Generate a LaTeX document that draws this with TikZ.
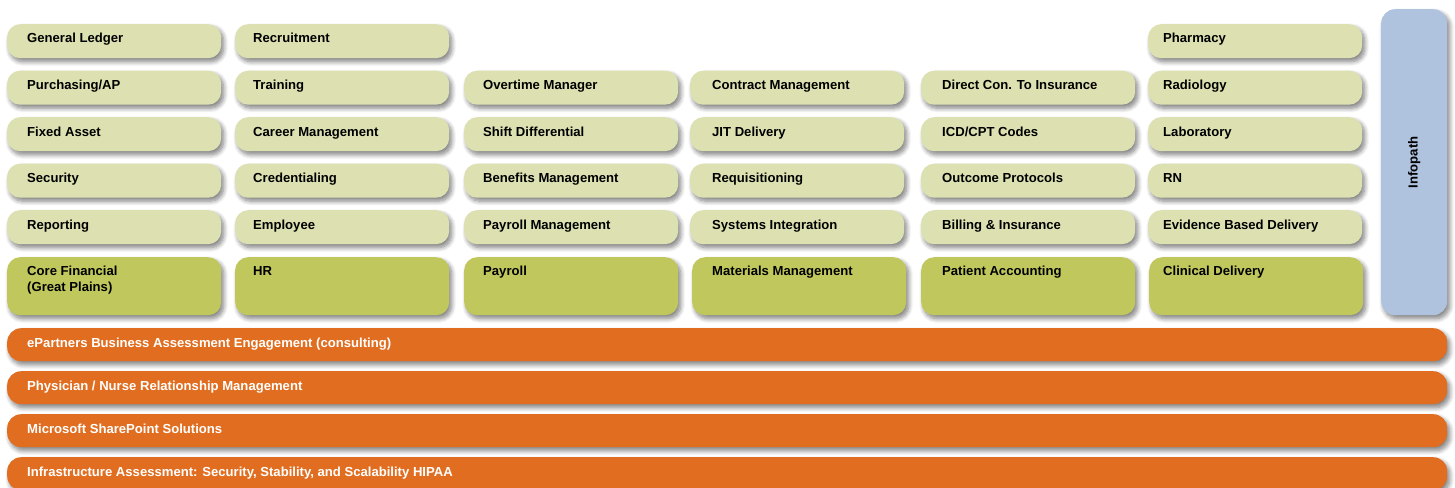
\documentclass[tikz,border=0pt]{standalone}
\usepackage{fontspec}
\setmainfont{Liberation Sans}
\usetikzlibrary{shadows.blur}
\definecolor{liteGreen}{RGB}{221,224,176}
\definecolor{darkGreen}{RGB}{192,200,93}
\definecolor{bandOrange}{RGB}{225,110,32}
\definecolor{infoBlue}{RGB}{175,195,222}
\tikzset{
  soft/.style={blur shadow={shadow xshift=2.5pt, shadow yshift=-3.5pt,
      shadow blur radius=4.5pt, shadow blur steps=8, shadow opacity=50}},
  lite/.style={soft, fill=liteGreen, rounded corners=13pt, draw=none,
      minimum width=214pt, minimum height=34pt, inner sep=0pt, anchor=north west},
  core/.style={soft, fill=darkGreen, rounded corners=13pt, draw=none,
      minimum width=214pt, minimum height=58pt, inner sep=0pt, anchor=north west},
  band/.style={soft, fill=bandOrange, rounded corners=14pt, draw=none,
      minimum width=1440pt, minimum height=33pt, inner sep=0pt, anchor=north west},
  side/.style={soft, fill=infoBlue, rounded corners=14pt, draw=none,
      minimum width=66pt, minimum height=306pt, inner sep=0pt, anchor=north west},
  lbl/.style={font=\fontsize{13.1}{16}\selectfont\bfseries, inner sep=0pt,
      text=black, anchor=base west, align=left},
  wlbl/.style={lbl, text=white},
}
% light module box: name, left, text x, top, label
\newcommand\modbox[5]{%
  \node[lite] (#1) at (#2,#4) {};
  \node[lbl] (#1-t) at (#3,#4+19) {#5};
}
% core product box: name, left, text x, baseline of last line, label
\newcommand\corebox[5]{%
  \node[core] (#1) at (#2,257) {};
  \node[lbl] (#1-t) at (#3,#4) {#5};
}
% service band: name, top, label
\newcommand\servband[3]{%
  \node[band] (#1) at (7,#2) {};
  \node[wlbl] (#1-t) at (27,#2+19) {#3};
}
\begin{document}
\begin{tikzpicture}[x=1pt,y=-1pt]
\useasboundingbox (0,0) rectangle (1455,487);

% column 1 -- core financial
\modbox{gl}{7}{27}{24}{General Ledger}
\modbox{pap}{7}{27}{70.5}{Purchasing/AP}
\modbox{fa}{7}{27}{117}{Fixed Asset}
\modbox{sec}{7}{27}{163.5}{Security}
\modbox{rep}{7}{27}{210}{Reporting}
\corebox{cf}{7}{27}{291}{Core Financial\\(Great Plains)}

% column 2 -- HR
\modbox{rec}{235}{253}{24}{Recruitment}
\modbox{trn}{235}{253}{70.5}{Training}
\modbox{car}{235}{253}{117}{Career Management}
\modbox{cred}{235}{253}{163.5}{Credentialing}
\modbox{emp}{235}{253}{210}{Employee}
\corebox{hr}{235}{253}{275.5}{HR}

% column 3 -- payroll
\modbox{ot}{464}{483}{70.5}{Overtime Manager}
\modbox{sd}{464}{483}{117}{Shift Differential}
\modbox{ben}{464}{483}{163.5}{Benefits Management}
\modbox{pm}{464}{483}{210}{Payroll Management}
\corebox{pay}{464}{483}{275.5}{Payroll}

% column 4 -- materials
\modbox{cm}{690}{712}{70.5}{Contract Management}
\modbox{jit}{690}{712}{117}{JIT Delivery}
\modbox{req}{690}{712}{163.5}{Requisitioning}
\modbox{si}{690}{712}{210}{Systems Integration}
\corebox{mm}{692}{712}{275.5}{Materials Management}

% column 5 -- patient accounting
\modbox{dci}{921}{942}{70.5}{Direct Con. To Insurance}
\modbox{icd}{921}{942}{117}{ICD/CPT Codes}
\modbox{op}{921}{942}{163.5}{Outcome Protocols}
\modbox{bi}{921}{942}{210}{Billing \& Insurance}
\corebox{pa}{921}{942}{275.5}{Patient Accounting}

% column 6 -- clinical delivery
\modbox{ph}{1148}{1163}{24}{Pharmacy}
\modbox{rad}{1148}{1163}{70.5}{Radiology}
\modbox{lab}{1148}{1163}{117}{Laboratory}
\modbox{rn}{1148}{1163}{163.5}{RN}
\modbox{ebd}{1148}{1163}{210}{Evidence Based Delivery}
\corebox{cd}{1149}{1163}{275.5}{Clinical Delivery}

% Infopath side bar
\node[side] (ip) at (1381,9) {};
\node[font=\fontsize{13.1}{16}\selectfont\bfseries, rotate=90, inner sep=0pt] (ip-t) at (ip.center) {Infopath};

% service bands
\servband{bae}{328}{ePartners Business Assessment Engagement (consulting)}
\servband{pnr}{371}{Physician / Nurse Relationship Management}
\servband{sps}{414}{Microsoft SharePoint Solutions}
\servband{ia}{457}{Infrastructure Assessment: Security, Stability, and Scalability HIPAA}
\end{tikzpicture}
\end{document}
